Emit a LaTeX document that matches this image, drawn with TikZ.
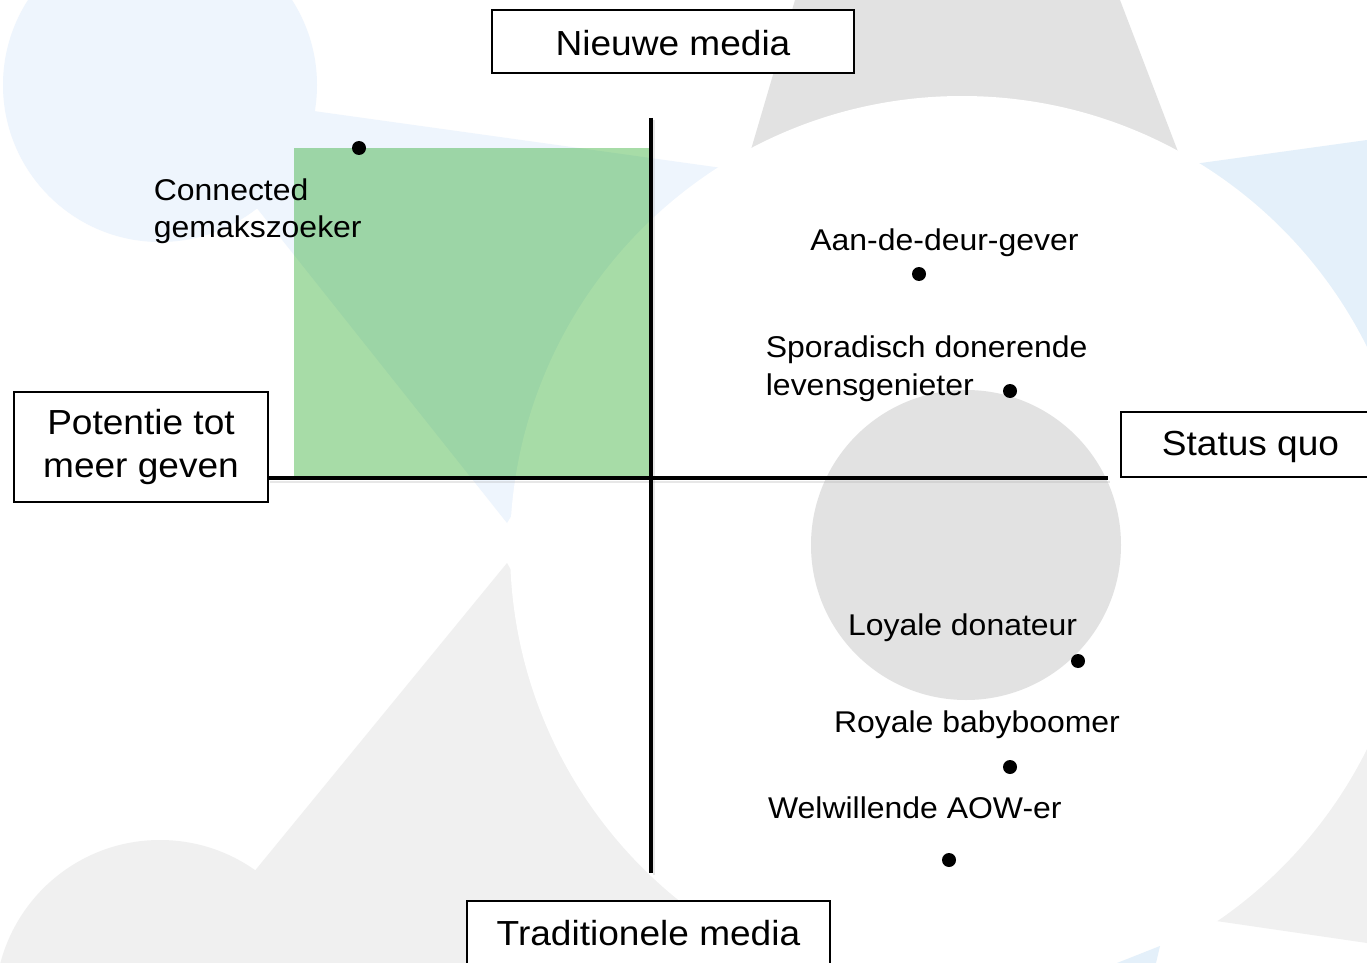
\documentclass[tikz,border=0pt]{standalone}
\usepackage{fontspec}
\setmainfont{Liberation Sans}[FakeStretch=1.065]
\definecolor{bgblue}{RGB}{238,245,253}
\definecolor{bgblueb}{RGB}{228,240,250}
\definecolor{bggray}{RGB}{226,226,226}
\definecolor{bglight}{RGB}{240,240,240}
\definecolor{quadgreen}{RGB}{5,155,5}
\tikzset{
  boxnode/.style={draw=black, line width=0.6pt, fill=white, inner sep=0pt, align=center,
    font=\fontsize{17.4}{21.5}\selectfont},
  lbl/.style={inner sep=0pt, align=left, anchor=base west, font=\fontsize{15}{19}\selectfont},
  dotnode/.style={circle, fill=black, inner sep=0pt, minimum size=7pt},
  axisline/.style={line width=2pt, black},
  axisshadow/.style={line width=1.4pt, black!30, opacity=0.3}
}
\begin{document}
\begin{tikzpicture}[x=0.5pt,y=-0.5pt]
\path[use as bounding box] (0,0) rectangle (1367,963);
\fill[white] (0,0) rectangle (1367,963);
\begin{scope}
  \clip (0,0) rectangle (1367,963);
  % light blue figure top left
  \fill[bgblue] (160,85) circle[radius=157];
  \fill[bgblue] (163,90) -- (722,168) -- (507,523) -- cycle;
  % light blue figure right
  \fill[bgblueb] (1100,177) -- (1367,140) -- (1367,420) -- cycle;
  % gray figure top
  \fill[bggray] (795,0) -- (1120,0) -- (1185,170) -- (745,170) -- cycle;
  % light gray figure bottom left
  \fill[bglight] (160,1005) circle[radius=165];
  \fill[bglight] (507,563) -- (149,1000) -- (757,1000) -- cycle;
  % light gray figure bottom right
  \fill[bglight] (1367,600) -- (1100,904) -- (1367,943) -- cycle;
  % big white circle
  \fill[white] (962,548) circle[radius=452];
  % gray head
  \fill[bggray] (966,545) circle[radius=155];
  % small blue bit
  \fill[bgblueb] (1117,963) -- (1160,946) -- (1156,963) -- cycle;
\end{scope}
% green quadrant
\fill[quadgreen, opacity=0.35] (294,148) rectangle (651,477);
% axes
\coordinate (hL) at (268,478);
\coordinate (hR) at (1108,478);
\coordinate (vT) at (651,118);
\coordinate (vB) at (651,873);
\draw[axisshadow] ([shift={(2,4)}]hL) -- ([shift={(2,4)}]hR);
\draw[axisshadow] ([shift={(3,2)}]vT) -- ([shift={(3,2)}]vB);
\draw[axisline] (hL) -- (hR);
\draw[axisline] (vT) -- (vB);
% axis boxes
\node[boxnode, minimum width=181pt, minimum height=31.5pt, text height=14pt] (nieuw) at (673,41.5) {Nieuwe media};
\node[boxnode, minimum width=127pt, minimum height=55pt] (pot) at (141,447) {Potentie tot\\meer geven};
\node[boxnode, minimum width=129.5pt, minimum height=32.5pt, text height=15pt] (status) at (1250.5,444.5) {Status quo};
\node[boxnode, minimum width=181.5pt, minimum height=32pt] (trad) at (648.5,933) {Traditionele media};
% labels
\node[lbl] (lconn) at (153.5,238) {Connected\\gemakszoeker};
\node[lbl] (laan) at (810,250) {Aan-de-deur-gever};
\node[lbl] (lspor) at (765.5,395) {Sporadisch donerende\\levensgenieter};
\node[lbl] (lloy) at (847.6,635) {Loyale donateur};
\node[lbl] (lroy) at (833.6,732) {Royale babyboomer};
\node[lbl] (lwel) at (767.7,818) {Welwillende AOW-er};
% dots
\node[dotnode] (dconn) at (359,148) {};
\node[dotnode] (daan) at (919,274) {};
\node[dotnode] (dspor) at (1010,391) {};
\node[dotnode] (dloy) at (1078,661) {};
\node[dotnode] (droy) at (1010,767) {};
\node[dotnode] (dwel) at (949,860) {};
\end{tikzpicture}
\end{document}
